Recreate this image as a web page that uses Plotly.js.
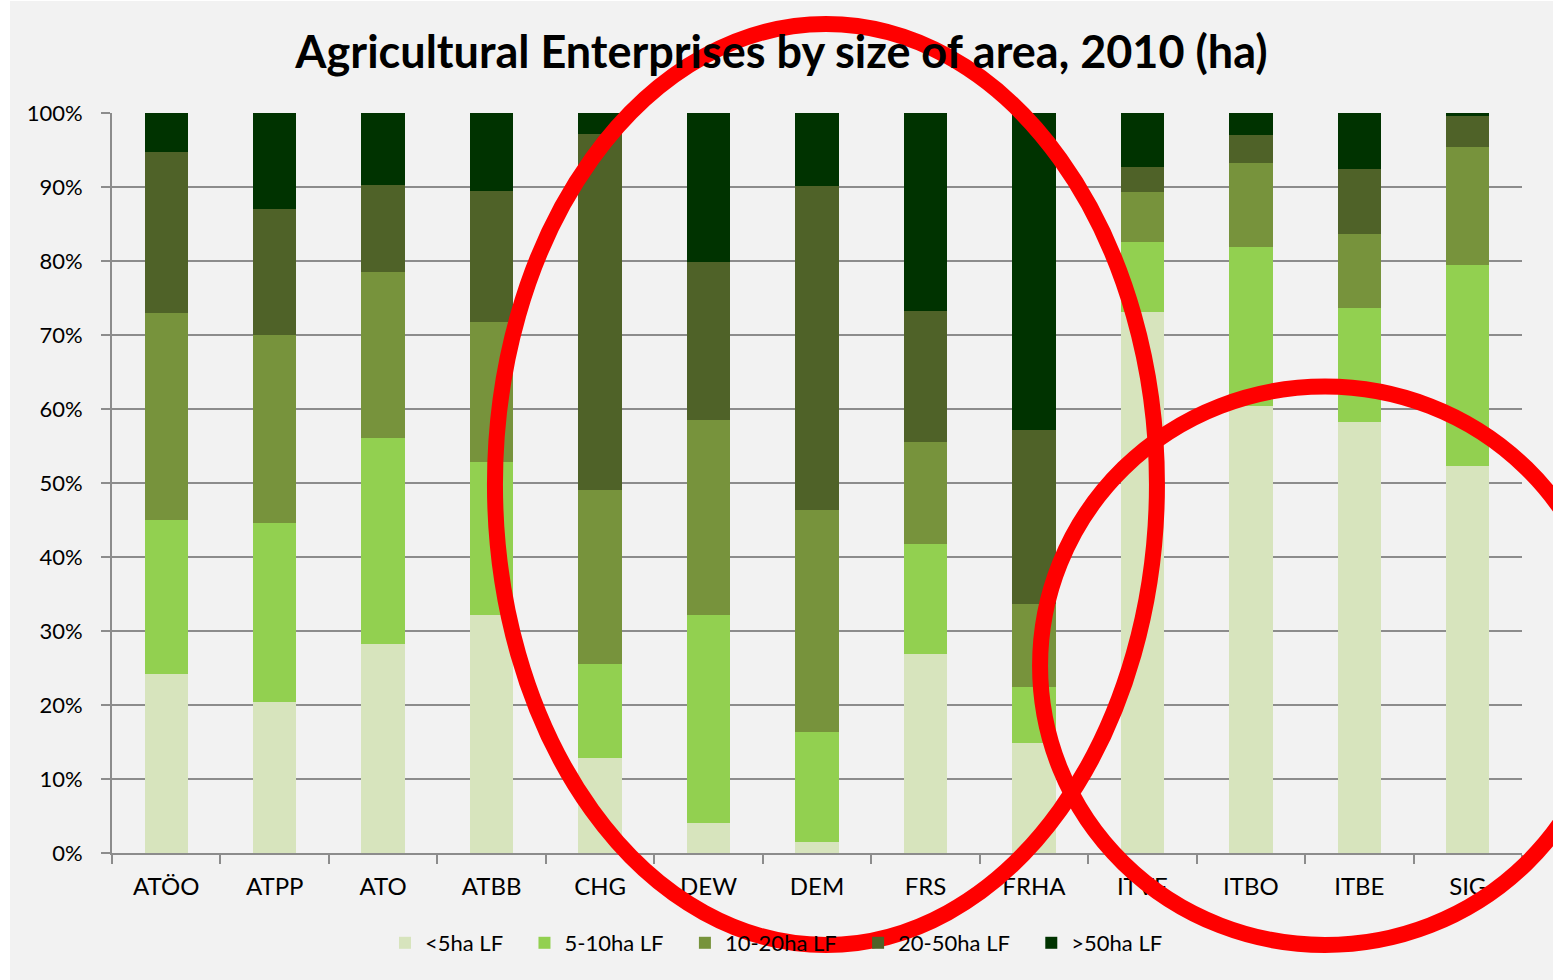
<!DOCTYPE html>
<html>
<head>
<meta charset="utf-8">
<script src="https://cdn.plot.ly/plotly-3.0.1.min.js"></script>
<style>
  html, body { margin: 0; padding: 0; background: #ffffff; }
  #chart { position: absolute; left: 10px; top: 1px; width: 1543px; height: 979px; }
</style>
</head>
<body>
<div id="chart"></div>
<script>
// Categories (regions)
const categories = ["ATÖO", "ATPP", "ATO", "ATBB", "CHG", "DEW", "DEM", "FRS", "FRHA", "ITVE", "ITBO", "ITBE", "SIG"];

// Share of enterprises per size class (%)
const lt5   = [24.2, 20.4, 28.3, 32.2, 12.9,  4.1,  1.5, 26.9, 14.8, 73.1, 60.4, 58.2, 52.3];
const s5_10 = [20.8, 24.2, 27.8, 20.7, 12.6, 28.1, 14.9, 14.9,  7.6,  9.5, 21.5, 15.4, 27.2];
const s10_20= [28.0, 25.4, 22.4, 18.9, 23.5, 26.3, 30.0, 13.7, 11.2,  6.7, 11.3, 10.0, 15.9];
const s20_50= [21.7, 17.0, 11.8, 17.7, 48.1, 21.4, 43.7, 17.7, 23.6,  3.4,  3.8,  8.8,  4.2];
const gt50  = [ 5.3, 13.0,  9.7, 10.5,  2.9, 20.1,  9.9, 26.8, 42.8,  7.3,  3.0,  7.6,  0.4];

const seriesNames = ["<5ha LF", "5-10ha LF", "10-20ha LF", "20-50ha LF", ">50ha LF"];
const seriesValues = [lt5, s5_10, s10_20, s20_50, gt50];
const seriesColors = ["#d7e4bd", "#92d050", "#77933c", "#4f6228", "#003300"];

const yTicks = [0, 10, 20, 30, 40, 50, 60, 70, 80, 90, 100];

// legend entries get a little trailing room (non-breaking spaces) for spacing
const PAD = "\u00a0\u00a0\u00a0";

const traces = seriesNames.map((name, i) => ({
  type: "bar",
  name: name + PAD,
  x: categories,
  y: seriesValues[i],
  marker: { color: seriesColors[i], line: { width: 0 } },
  hovertemplate: "%{x}: %{y}<extra>" + name + "</extra>"
}));

const FONT = "Lato, 'Open Sans', sans-serif";

const layout = {
  barmode: "stack",
  barnorm: "percent",
  bargap: 0.6,
  paper_bgcolor: "#f2f2f2",
  plot_bgcolor: "#f2f2f2",
  margin: { l: 102, r: 31, t: 112, b: 127 },
  font: { family: FONT, color: "#000000" },
  title: {
    text: "<b>Agricultural Enterprises by size of area, 2010 (ha)</b>",
    font: { family: FONT, size: 45, color: "#000000" },
    x: 0.5, xanchor: "center",
    y: 1 - 51 / 979, yanchor: "middle"
  },
  xaxis: {
    type: "category",
    showgrid: false,
    showline: true,
    linecolor: "#8c8c8c",
    linewidth: 2,
    ticks: "outside",
    tickson: "boundaries",
    ticklen: 9,
    tickwidth: 2,
    tickcolor: "#8c8c8c",
    ticklabelstandoff: 11,
    tickfont: { family: FONT, size: 24, color: "#000000" },
    fixedrange: true
  },
  yaxis: {
    range: [0, 100],
    tickvals: yTicks,
    ticktext: yTicks.map(v => v + "%"),
    showgrid: true,
    gridcolor: "#8c8c8c",
    gridwidth: 2,
    showline: true,
    linecolor: "#8c8c8c",
    linewidth: 2,
    ticks: "outside",
    ticklen: 9,
    tickwidth: 2,
    tickcolor: "#8c8c8c",
    ticklabelstandoff: 14,
    zeroline: false,
    tickfont: { family: FONT, size: 22, color: "#000000" },
    fixedrange: true
  },
  legend: {
    orientation: "h",
    traceorder: "normal",
    x: 0.1936, xanchor: "left",
    y: -0.1216, yanchor: "middle",
    bgcolor: "rgba(0,0,0,0)",
    font: { family: FONT, size: 22, color: "#000000" },
    itemwidth: 30
  },
  showlegend: true,
  shapes: [
    {
      type: "circle", xref: "paper", yref: "paper", layer: "above",
      x0: 0.2716, x1: 0.7411, y0: -0.1243, y1: 1.1203,
      line: { color: "#ff0000", width: 16 }, fillcolor: "rgba(0,0,0,0)"
    },
    {
      type: "circle", xref: "paper", yref: "paper", layer: "above",
      x0: 0.6582, x1: 1.0624, y0: -0.1243, y1: 0.6304,
      line: { color: "#ff0000", width: 16 }, fillcolor: "rgba(0,0,0,0)"
    }
  ]
};

Plotly.newPlot("chart", traces, layout, { displayModeBar: false, responsive: false });
</script>
</body>
</html>
